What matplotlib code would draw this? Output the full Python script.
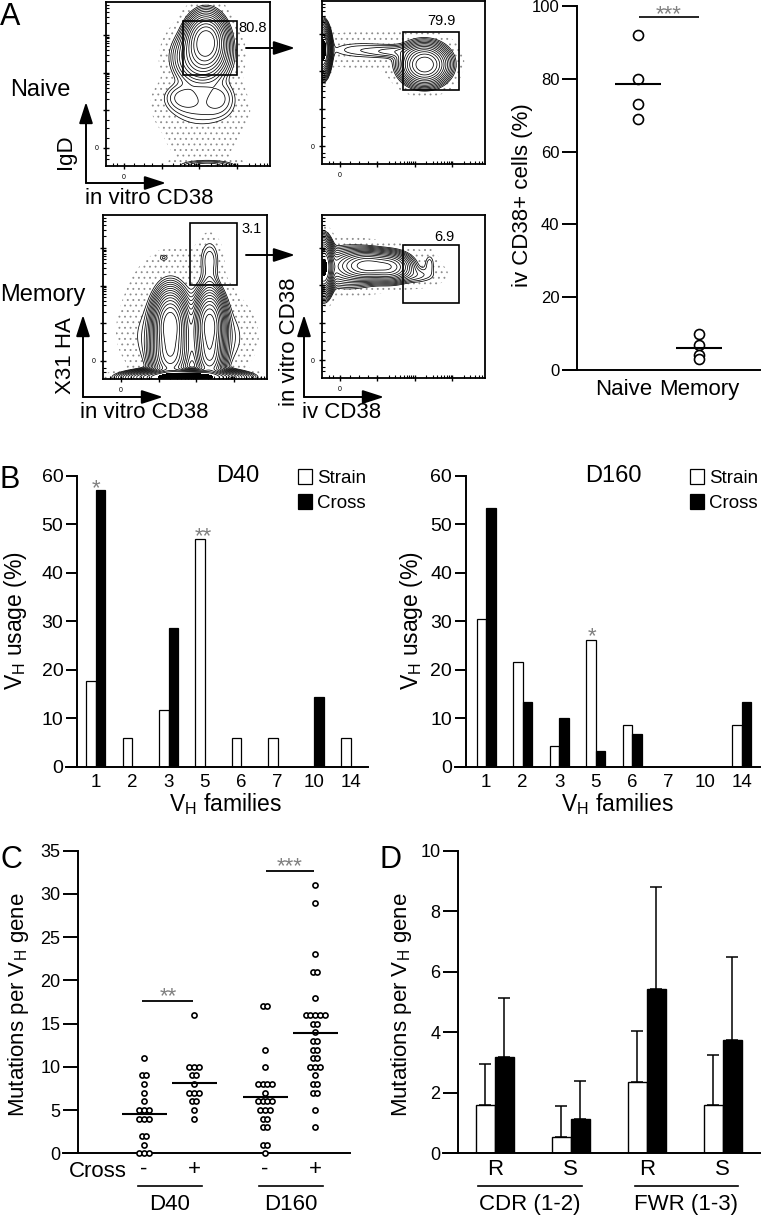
import numpy as np
import matplotlib
matplotlib.use('Agg')
import matplotlib.pyplot as plt
from matplotlib.patches import Rectangle

plt.rcParams['font.family'] = ['Liberation Sans', 'DejaVu Sans']
plt.rcParams['mathtext.fontset'] = 'custom'
plt.rcParams['mathtext.rm'] = 'Liberation Sans'
plt.rcParams['mathtext.it'] = 'Liberation Sans:italic'
plt.rcParams['hatch.linewidth'] = 0.6
plt.rcParams['hatch.color'] = '0.55'

# ---------------- data ----------------
# Panel A (right): iv CD38+ cells (%)
a_groups = ['Naive', 'Memory']
a_naive = [92, 80, 73, 69]
a_memory = [10, 7, 4, 3]
a_gate_labels = ['80.8', '79.9', '3.1', '6.9']

# Panel A flow plots: density components (cx, cy, sx, sy, weight), axes fractions
flow_naive_invitro = [
    (0.61, 0.76, 0.055, 0.075, 1.00),
    (0.58, 0.66, 0.080, 0.080, 0.25),
    (0.47, 0.42, 0.070, 0.050, 0.04),
    (0.69, 0.42, 0.060, 0.060, 0.035),
    (0.58, 0.34, 0.120, 0.060, 0.02),
    (0.62, 0.00, 0.100, 0.020, 0.05),
    (0.58, 0.28, 0.160, 0.200, 0.006),
    (0.62, 0.72, 0.130, 0.130, 0.006),
]
flow_naive_iv = [
    (0.63, 0.61, 0.065, 0.055, 1.00),
    (0.45, 0.69, 0.100, 0.022, 0.035),
    (0.22, 0.70, 0.120, 0.030, 0.016),
    (0.00, 0.70, 0.022, 0.065, 2.00),
    (0.30, 0.70, 0.250, 0.070, 0.008),
    (0.63, 0.61, 0.120, 0.100, 0.006),
]
flow_memory_invitro = [
    (0.41, 0.33, 0.045, 0.090, 1.00),
    (0.65, 0.33, 0.040, 0.090, 0.90),
    (0.41, 0.15, 0.050, 0.080, 0.60),
    (0.65, 0.15, 0.040, 0.080, 0.50),
    (0.50, 0.01, 0.130, 0.020, 2.50),
    (0.53, 0.25, 0.160, 0.120, 0.04),
    (0.65, 0.73, 0.035, 0.070, 0.016),
    (0.65, 0.55, 0.030, 0.080, 0.012),
    (0.37, 0.74, 0.020, 0.015, 0.009),
    (0.45, 0.45, 0.220, 0.250, 0.004),
]
flow_memory_iv = [
    (0.01, 0.68, 0.025, 0.070, 1.50),
    (0.28, 0.69, 0.080, 0.040, 0.60),
    (0.42, 0.68, 0.060, 0.040, 0.40),
    (0.15, 0.68, 0.100, 0.060, 0.10),
    (0.58, 0.63, 0.070, 0.030, 0.02),
    (0.66, 0.70, 0.020, 0.040, 0.015),
    (0.30, 0.68, 0.300, 0.100, 0.004),
]

# Panel B: VH usage (%)
b_families = ['1', '2', '3', '5', '6', '7', '10', '14']
b_d40_strain = [17.6, 5.9, 11.8, 47.1, 5.9, 5.9, 0, 5.9]
b_d40_cross = [57.1, 0, 28.6, 0, 0, 0, 14.3, 0]
b_d160_strain = [30.4, 21.7, 4.3, 26.1, 8.7, 0, 0, 8.7]
b_d160_cross = [53.3, 13.3, 10.0, 3.3, 6.7, 0, 0, 13.3]

# Panel C: mutations per VH gene
c_d40_minus = [11, 9, 9, 8, 7, 6, 5, 5, 5, 4, 4, 4, 2, 2, 1, 0, 0, 0]
c_d40_plus = [16, 10, 10, 10, 9, 9, 8, 7, 7, 7, 6, 6, 5, 4]
c_d160_minus = [17, 17, 12, 10, 8, 8, 8, 8, 7, 6, 6, 6, 6, 5, 5, 5, 4, 4, 3, 3, 1, 1, 0]
c_d160_plus = [31, 29, 23, 21, 21, 18, 16, 16, 16, 16, 16, 15, 15, 14, 13, 13, 12, 12,
               11, 11, 10, 10, 10, 9, 8, 8, 7, 7, 5, 3]
c_cross = ['-', '+', '-', '+']

# Panel D: mutations per VH gene (mean, SD)
d_regions = ['R', 'S', 'R', 'S']
d_strain_mean = [1.60, 0.55, 2.35, 1.60]
d_strain_sd = [1.34, 1.01, 1.70, 1.64]
d_cross_mean = [3.17, 1.13, 5.42, 3.74]
d_cross_sd = [1.95, 1.27, 3.39, 2.74]

# ---------------- figure ----------------
W, H = 761, 1216
fig = plt.figure(figsize=(W / 100, H / 100), dpi=100)


def add_ax(l, t, r, b, **kw):
    return fig.add_axes([l / W, 1 - b / H, (r - l) / W, (b - t) / H], **kw)


LW = 1.4
STAR = '0.5'
STAR_FS = 16


def style_axes(ax, spine_x, ticklen):
    for s in ['top', 'right']:
        ax.spines[s].set_visible(False)
    ax.spines['left'].set_position(('data', spine_x))
    ax.spines['left'].set_linewidth(LW)
    ax.spines['bottom'].set_linewidth(LW)
    ax.tick_params(axis='y', length=ticklen, width=LW, direction='out', pad=2)
    ax.tick_params(axis='x', length=0)
    ax.patch.set_visible(False)


# ---------- Panel A flow plots ----------
def flow_plot(box, comps, nlev, ratio, stip, solid=1.2):
    ax = add_ax(*box)
    g = np.linspace(0, 1, 360)
    X, Y = np.meshgrid(g, g)
    Z = np.zeros_like(X)
    for cx, cy, sx, sy, w in comps:
        Z += w * np.exp(-0.5 * (((X - cx) / sx) ** 2 + ((Y - cy) / sy) ** 2))
    levels = np.sort(ratio ** np.arange(1, nlev + 1))
    ax.contourf(X, Y, Z, levels=[stip, levels[0]], colors='none', hatches=['...'])
    if Z.max() > solid:
        ax.contourf(X, Y, Z, levels=[solid, Z.max() + 1], colors='k')
    ax.contour(X, Y, Z, levels=levels, colors='k', linewidths=0.55)
    ax.set_xlim(0, 1)
    ax.set_ylim(0, 1)
    maj = [0.11, 0.34, 0.57, 0.80]
    mins = [0.04, 0.07, 0.17, 0.23, 0.28]
    for d in maj[1:]:
        for k in range(2, 10):
            v = d + 0.23 * np.log10(k)
            if v < 0.99:
                mins.append(v)
    for axis in (ax.xaxis, ax.yaxis):
        axis.set_ticks(maj)
        axis.set_ticks(mins, minor=True)
        axis.set_ticklabels(['0', '', '', ''])
    ax.tick_params(which='major', direction='inout', length=5, width=1.0, labelsize=5, pad=3)
    ax.tick_params(which='minor', direction='in', length=2.5, width=0.8)
    for s in ['left', 'bottom', 'top', 'right']:
        ax.spines[s].set_linewidth(1.3)
    return ax


flow_plot((106, 2, 270, 166), flow_naive_invitro, 13, 0.72, 0.002)
flow_plot((322, 1, 485, 164), flow_naive_iv, 13, 0.72, 0.002)
flow_plot((103, 215, 267, 379), flow_memory_invitro, 15, 0.72, 0.0015)
flow_plot((322, 215, 485, 378), flow_memory_iv, 14, 0.72, 0.0015)

# ---------- Panel A scatter ----------
axA = add_ax(563, 6, 760, 370)
style_axes(axA, 0.0, 10.6)
axA.set_xlim(-0.23, 3.0)
axA.set_ylim(0, 100)
axA.set_yticks([0, 20, 40, 60, 80, 100])
axA.tick_params(axis='y', labelsize=12)
axA.set_xticks([])
for i, vals in enumerate([a_naive, a_memory]):
    axA.plot([i + 1] * len(vals), vals, 'o', ms=7.2, mfc='white', mec='k', mew=1.2,
             clip_on=False, zorder=3)
    axA.hlines(np.mean(vals), i + 1 - 0.37, i + 1 + 0.37, color='k', lw=1.5, zorder=4)
axA.hlines(97, 1.02, 2.0, color='k', lw=1.2)
axA.text(1.5, 96.0, '***', ha='center', va='baseline', fontsize=STAR_FS, color=STAR,
         clip_on=False)

# ---------- Panel B ----------
def panel_b(box, spine_x, xl, strain, cross, title, tx, stars):
    ax = add_ax(*box)
    style_axes(ax, spine_x, 8)
    x = np.arange(len(b_families))
    w = 0.26
    ax.bar(x - w / 2, strain, w, color='white', edgecolor='k', linewidth=0.9, label='Strain')
    ax.bar(x + w / 2, cross, w, color='black', edgecolor='k', linewidth=0.9, label='Cross')
    ax.set_xlim(*xl)
    ax.set_ylim(0, 60)
    ax.set_yticks(range(0, 61, 10))
    ax.set_xticks(x)
    ax.set_xticklabels(b_families)
    ax.tick_params(axis='y', labelsize=14)
    ax.tick_params(axis='x', labelsize=13.5, pad=5)
    ax.text(tx, 1.0, title, transform=ax.transAxes, fontsize=17, ha='center', va='center')
    for sx, sy, s in stars:
        ax.text(sx, sy, s, ha='center', va='baseline', fontsize=STAR_FS, color=STAR)
    ax.legend(loc='upper right', bbox_to_anchor=(1.02, 1.05), frameon=False, fontsize=13.5,
              handlelength=0.75, handleheight=0.85, handletextpad=0.3, labelspacing=0.4,
              borderaxespad=0)
    return ax


panel_b((66, 476, 368, 766.7), -0.505, (-0.816, 7.48), b_d40_strain, b_d40_cross, 'D40',
        0.57, [(0.0, 56.3, '*'), (2.97, 46.4, '**')])
panel_b((455, 476, 760, 766.7), -0.548, (-0.85, 7.5), b_d160_strain, b_d160_cross, 'D160',
        0.518, [(2.9, 25.8, '*')])

# ---------- Panel C ----------
axC = add_ax(63, 850.7, 350, 1153.3)
style_axes(axC, -1.314, 10.8)
cpos = [0, 1, 2.42, 3.42]
axC.set_xlim(-1.62, 4.12)
axC.set_ylim(0, 35)
axC.set_yticks(range(0, 36, 5))
axC.tick_params(axis='y', labelsize=13)
for xc, vals in zip(cpos, [c_d40_minus, c_d40_plus, c_d160_minus, c_d160_plus]):
    vals = np.array(vals)
    xs, ys = [], []
    for v in np.unique(vals):
        n = int((vals == v).sum())
        for k in range(n):
            xs.append(xc + (k - (n - 1) / 2) * 0.095)
            ys.append(v)
    axC.plot(xs, ys, 'o', ms=3.7, mfc='white', mec='k', mew=1.2, clip_on=False, zorder=3)
    axC.hlines(vals.mean(), xc - 0.45, xc + 0.45, color='k', lw=1.5, zorder=4)
axC.set_xticks(cpos)
axC.set_xticklabels(c_cross, fontsize=16)
axC.tick_params(axis='x', pad=4)
axC.hlines(17.6, -0.04, 0.98, color='k', lw=1.3)
axC.text(0.48, 17.5, '**', ha='center', va='baseline', fontsize=STAR_FS, color=STAR)
axC.hlines(32.7, 2.44, 3.40, color='k', lw=1.3)
axC.text(2.92, 32.5, '***', ha='center', va='baseline', fontsize=STAR_FS, color=STAR)

# ---------- Panel D ----------
axD = add_ax(443.3, 850.7, 760, 1153.3)
style_axes(axD, -0.483, 10.8)
xd = np.arange(4)
wd = 0.25
axD.bar(xd - wd / 2, d_strain_mean, wd, color='white', edgecolor='k', linewidth=1.0,
        yerr=[np.zeros(4), d_strain_sd], error_kw=dict(ecolor='k', elinewidth=1.1, capsize=4.5,
                                                       capthick=1.1))
axD.bar(xd + wd / 2, d_cross_mean, wd, color='black', edgecolor='k', linewidth=1.0,
        yerr=[np.zeros(4), d_cross_sd], error_kw=dict(ecolor='k', elinewidth=1.1, capsize=4.5,
                                                      capthick=1.1))
axD.set_xlim(-0.68, 3.49)
axD.set_ylim(0, 10)
axD.set_yticks(range(0, 11, 2))
axD.tick_params(axis='y', labelsize=13)
axD.set_xticks(xd)
axD.set_xticklabels(d_regions, fontsize=16)
axD.tick_params(axis='x', pad=4)

# ---------- overlay (labels, arrows, gates) ----------
ov = fig.add_axes([0, 0, 1, 1], zorder=10)
ov.set_xlim(0, W)
ov.set_ylim(H, 0)
ov.axis('off')


def arrow(x0, y0, x1, y1):
    ov.annotate('', xy=(x1, y1), xytext=(x0, y0),
                arrowprops=dict(arrowstyle='-|>,head_length=1.3,head_width=0.42', lw=1.4,
                                color='k', mutation_scale=10, shrinkA=0, shrinkB=0))


# gates
for (x0, y0, x1, y1) in [(183, 21, 237, 75), (403, 32, 459, 90), (190, 223, 237, 285),
                         (403, 245, 459, 303)]:
    ov.add_patch(Rectangle((x0, y0), x1 - x0, y1 - y0, fill=False, lw=1.2, ec='k'))
ov.text(238, 32, a_gate_labels[0], fontsize=10.5, ha='left', va='baseline')
ov.text(441, 25, a_gate_labels[1], fontsize=10.5, ha='center', va='baseline')
ov.text(241, 233, a_gate_labels[2], fontsize=10.5, ha='left', va='baseline')
ov.text(444, 241, a_gate_labels[3], fontsize=10.5, ha='center', va='baseline')
arrow(246, 48, 295, 48)
arrow(246, 255, 295, 255)
# axis arrows
arrow(86, 183, 86, 102)
arrow(86, 183, 166, 183)
arrow(83, 397, 83, 315)
arrow(83, 397, 163, 397)
arrow(304, 397, 304, 315)
arrow(304, 397, 384, 397)

ov.text(10, 96, 'Naive', fontsize=17, ha='left', va='baseline')
ov.text(0, 301, 'Memory', fontsize=17, ha='left', va='baseline')
ov.text(71, 152, 'IgD', fontsize=16, rotation=90, ha='center', va='baseline',
        rotation_mode='anchor')
ov.text(85, 204, 'in vitro CD38', fontsize=16, ha='left', va='baseline')
ov.text(71, 356, 'X31 HA', fontsize=16, rotation=90, ha='center', va='baseline',
        rotation_mode='anchor')
ov.text(80, 418, 'in vitro CD38', fontsize=16, ha='left', va='baseline')
ov.text(295, 342, 'in vitro CD38', fontsize=16, rotation=90, ha='center', va='baseline',
        rotation_mode='anchor')
ov.text(302, 418, 'iv CD38', fontsize=16, ha='left', va='baseline')

# panel A scatter labels
ov.text(624, 395, a_groups[0], fontsize=16, ha='center', va='baseline')
ov.text(699, 395, a_groups[1], fontsize=16, ha='center', va='baseline')
ov.text(528, 195, 'iv CD38+ cells (%)', fontsize=16, rotation=90, ha='center', va='baseline',
        rotation_mode='anchor')

# panel B labels
VH = 'V$_{\\mathregular{H}}$'
ov.text(22, 621, VH + ' usage (%)', fontsize=16.5, rotation=90, ha='center', va='baseline',
        rotation_mode='anchor')
ov.text(418, 621, VH + ' usage (%)', fontsize=16.5, rotation=90, ha='center', va='baseline',
        rotation_mode='anchor')
ov.text(225, 811, VH + ' families', fontsize=16.5, ha='center', va='baseline')
ov.text(617, 811, VH + ' families', fontsize=16.5, ha='center', va='baseline')

# panel C labels
ov.text(24, 1005, 'Mutations per ' + VH + ' gene', fontsize=16, rotation=90, ha='center',
        va='baseline', rotation_mode='anchor')
ov.text(127, 1177, 'Cross', fontsize=16, ha='right', va='baseline')
ov.plot([138, 202], [1186, 1186], color='k', lw=1.2)
ov.plot([259, 323], [1186, 1186], color='k', lw=1.2)
ov.text(170, 1210, 'D40', fontsize=16, ha='center', va='baseline')
ov.text(291, 1210, 'D160', fontsize=16, ha='center', va='baseline')

# panel D labels
ov.text(407, 1005, 'Mutations per ' + VH + ' gene', fontsize=16, rotation=90, ha='center',
        va='baseline', rotation_mode='anchor')
ov.plot([478, 582], [1186, 1186], color='k', lw=1.2)
ov.plot([635, 738], [1186, 1186], color='k', lw=1.2)
ov.text(530, 1210, 'CDR (1-2)', fontsize=16, ha='center', va='baseline')
ov.text(686, 1210, 'FWR (1-3)', fontsize=16, ha='center', va='baseline')

# panel letters
for lab, x, y in [('A', 0, 25), ('B', 0, 488), ('C', 0, 868), ('D', 380, 868)]:
    ov.text(x, y, lab, fontsize=22, ha='left', va='baseline')

fig.savefig('out.png', dpi=100)
